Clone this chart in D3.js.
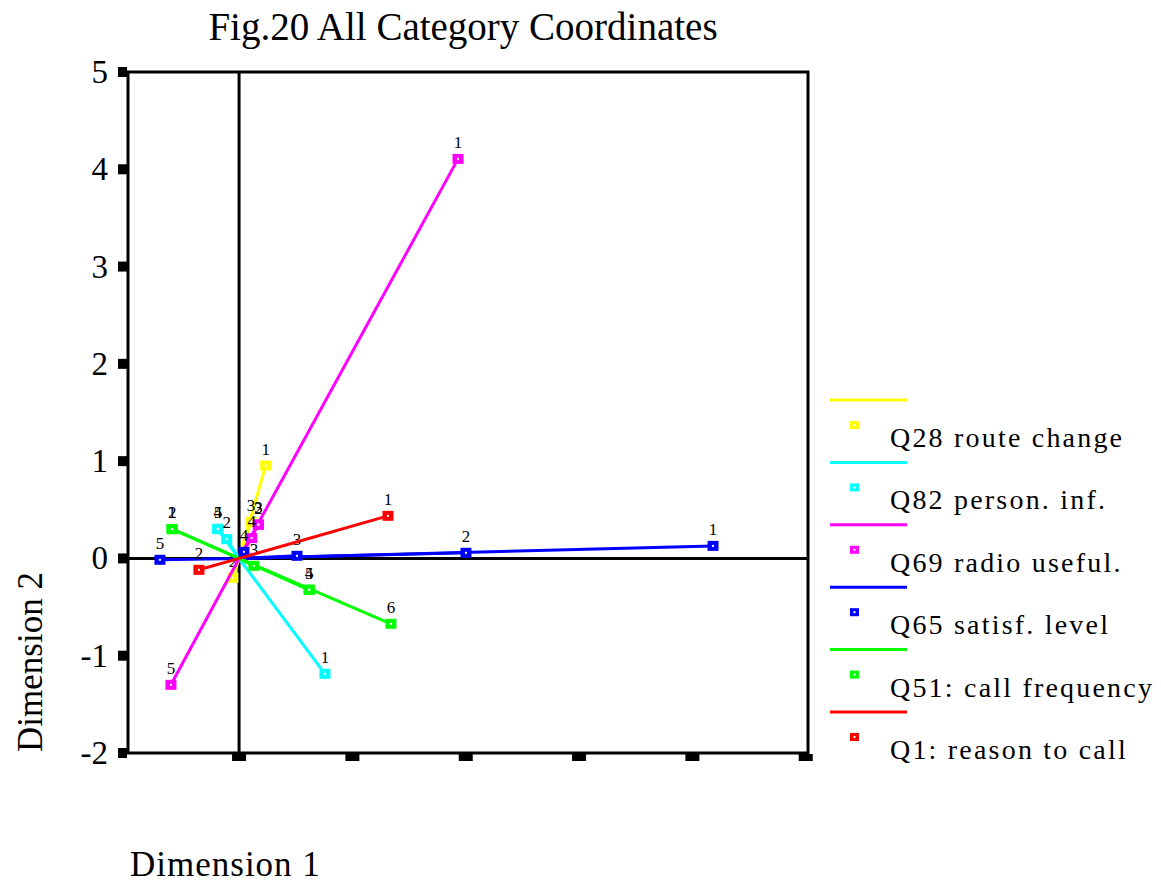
<!DOCTYPE html>
<html><head><meta charset="utf-8">
<script src="https://cdn.jsdelivr.net/npm/d3@7"></script>
<style>body{margin:0;background:#fff}svg{display:block}text{font-family:"Liberation Serif","Times New Roman",serif}</style>
</head><body><svg id="c" width="1161" height="884"></svg>
<script>
// ---- data ----
const seriesNames = ["Q28 route change","Q82 person. inf.","Q69 radio useful.","Q65 satisf. level","Q51: call frequency","Q1: reason to call"];
const seriesColors = ["#ffff00","#00ffff","#ff00ff","#0000ff","#00ff00","#ff0000"];
const q28 = [{c:"1",x:0.235,y:0.955},{c:"2",x:-0.054,y:-0.199},{c:"3",x:0.105,y:0.376}];
const q82 = [{c:"1",x:0.758,y:-1.186},{c:"2",x:-0.109,y:0.198},{c:"4",x:-0.189,y:0.301},{c:"5",x:-0.185,y:0.305}];
const q69 = [{c:"1",x:1.932,y:4.107},{c:"2",x:0.169,y:0.345},{c:"3",x:0.172,y:0.35},{c:"4",x:0.111,y:0.209},{c:"5",x:-0.601,y:-1.299}];
const q65 = [{c:"1",x:4.182,y:0.129},{c:"2",x:2.002,y:0.058},{c:"3",x:0.511,y:0.027},{c:"4",x:0.043,y:0.068},{c:"5",x:-0.698,y:-0.014}];
const q51 = [{c:"1",x:-0.592,y:0.304},{c:"2",x:-0.59,y:0.30},{c:"3",x:0.131,y:-0.076},{c:"4",x:0.617,y:-0.323},{c:"5",x:0.62,y:-0.32},{c:"6",x:1.34,y:-0.672}];
const q1  = [{c:"1",x:1.314,y:0.438},{c:"2",x:-0.354,y:-0.117}];
const seriesData = [q28,q82,q69,q65,q51,q1];
const yTicks = [5,4,3,2,1,0,-1,-2];
const xTicks = [0,1,2,3,4,5];
const title = "Fig.20 All Category Coordinates";

// ---- drawing ----
const svg = d3.select("#c");
const L=128,R=808,T=72,B=753;
const x = d3.scaleLinear().domain([-0.98,5.02]).range([L,R]);
const y = d3.scaleLinear().domain([-2,5]).range([B,T]);

svg.append("text").attr("x",463).attr("y",40).attr("text-anchor","middle")
  .attr("font-size",39).text(title);

// y tick squares + labels
const yt = svg.append("g");
yt.selectAll("rect").data(yTicks).join("rect")
  .attr("x",118).attr("y",d=>y(d)-5).attr("width",9).attr("height",10).attr("fill","#000");
yt.selectAll("text").data(yTicks).join("text")
  .attr("x",108).attr("y",d=>y(d)+11).attr("text-anchor","end").attr("font-size",33)
  .text(d=>String(d));

// x tick squares (no labels)
svg.append("g").selectAll("rect").data(xTicks).join("rect")
  .attr("x",d=>x(d)-7).attr("y",B+1).attr("width",14).attr("height",7).attr("fill","#000");

// frame
svg.append("rect").attr("x",L).attr("y",T).attr("width",R-L).attr("height",B-T)
  .attr("fill","none").attr("stroke","#000").attr("stroke-width",3);
// zero axes
svg.append("line").attr("x1",x(0)).attr("x2",x(0)).attr("y1",T).attr("y2",B).attr("stroke","#000").attr("stroke-width",3);
svg.append("line").attr("x1",L).attr("x2",R).attr("y1",y(0)).attr("y2",y(0)).attr("stroke","#000").attr("stroke-width",3);

// series
seriesData.forEach((pts,i)=>{
  const g = svg.append("g");
  g.selectAll("line").data(pts).join("line")
    .attr("x1",x(0)).attr("y1",y(0)).attr("x2",d=>x(d.x)).attr("y2",d=>y(d.y))
    .attr("stroke",seriesColors[i]).attr("stroke-width",3);
  g.selectAll("rect.m").data(pts).join("rect").attr("class","m")
    .attr("x",d=>x(d.x)-5.5).attr("y",d=>y(d.y)-5).attr("width",11).attr("height",10)
    .attr("fill",seriesColors[i]);
  g.selectAll("rect.w").data(pts).join("rect").attr("class","w")
    .attr("x",d=>x(d.x)-1).attr("y",d=>y(d.y)-1).attr("width",2).attr("height",2)
    .attr("fill","#fff");
  g.selectAll("text").data(pts).join("text")
    .attr("x",d=>x(d.x)).attr("y",d=>y(d.y)-11).attr("text-anchor","middle")
    .attr("font-size",17).text(d=>d.c);
});

// legend
const lg = svg.append("g");
seriesNames.forEach((n,i)=>{
  const y0 = 400 + i*62.4;
  lg.append("line").attr("x1",830).attr("x2",907).attr("y1",y0).attr("y2",y0)
    .attr("stroke",seriesColors[i]).attr("stroke-width",3);
  lg.append("rect").attr("x",850).attr("y",y0+21).attr("width",9).attr("height",8).attr("fill",seriesColors[i]);
  lg.append("rect").attr("x",853.5).attr("y",y0+24).attr("width",2).attr("height",2).attr("fill","#fff");
  lg.append("text").attr("x",890).attr("y",y0+47).attr("font-size",28)
    .attr("letter-spacing","2.2px").text(n);
});

// axis titles
svg.append("text").attr("transform","translate(42,662) rotate(-90)").attr("text-anchor","middle")
  .attr("font-size",35).text("Dimension 2");
svg.append("text").attr("x",130).attr("y",876).attr("font-size",35).attr("letter-spacing","1px").text("Dimension 1");
</script></body></html>
